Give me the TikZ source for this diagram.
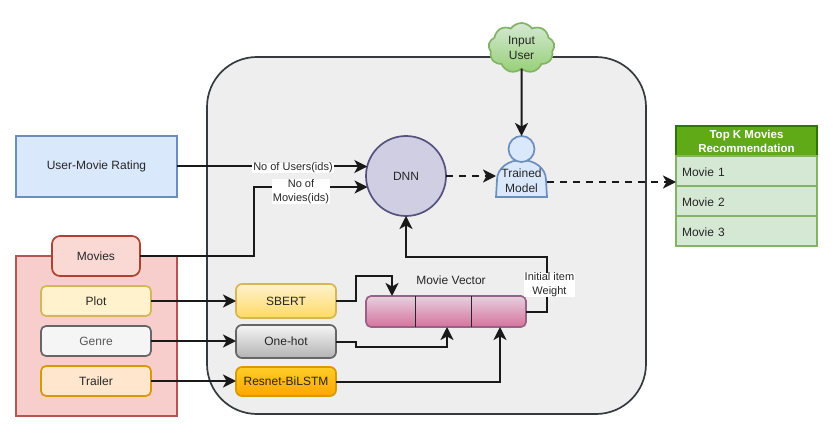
\documentclass[tikz,border=0pt]{standalone}
\usepackage{fontspec}
\setmainfont{Liberation Sans}
\usetikzlibrary{arrows.meta,shapes.symbols}
\definecolor{inkgray}{HTML}{262626}
\definecolor{bluefill}{HTML}{DAE8FC}
\definecolor{blueline}{HTML}{6C8EBF}
\definecolor{redfill}{HTML}{F8CECC}
\definecolor{redline}{HTML}{B85450}
\definecolor{moviefill}{HTML}{FAD9D5}
\definecolor{movieline}{HTML}{AE4132}
\definecolor{yellowfill}{HTML}{FFF2CC}
\definecolor{yellowend}{HTML}{FFD966}
\definecolor{yellowline}{HTML}{D6B656}
\definecolor{grayfill}{HTML}{F5F5F5}
\definecolor{grayend}{HTML}{B3B3B3}
\definecolor{grayline}{HTML}{666666}
\definecolor{orangefill}{HTML}{FFE6CC}
\definecolor{orangeline}{HTML}{D79B00}
\definecolor{amberstart}{HTML}{FFCD28}
\definecolor{amberend}{HTML}{FFA500}
\definecolor{pinkstart}{HTML}{E6D0DE}
\definecolor{pinkend}{HTML}{D5739D}
\definecolor{pinkline}{HTML}{996185}
\definecolor{dnnfill}{HTML}{D0CEE2}
\definecolor{dnnline}{HTML}{56517E}
\definecolor{enginefill}{HTML}{EEEEEE}
\definecolor{engineline}{HTML}{36393D}
\definecolor{greenfill}{HTML}{D5E8D4}
\definecolor{greenline}{HTML}{82B366}
\definecolor{greenend}{HTML}{97D077}
\definecolor{hdrfill}{HTML}{60A917}
\definecolor{hdrline}{HTML}{2D7600}
\begin{document}
\begin{tikzpicture}[
   x=1pt, y=-1pt,
   every node/.style={font=\fontsize{12}{15}\selectfont, text=inkgray, inner sep=0pt, outer sep=0pt, align=center},
   item/.style={rounded corners=5pt, minimum width=110pt, minimum height=30pt, line width=1.7pt},
   encoder/.style={rounded corners=6pt, minimum width=100pt, line width=1.7pt},
   movierow/.style={draw=greenline, fill=greenfill, line width=1.7pt, minimum width=141pt, minimum height=30pt, text width=129pt, text height=10.5pt, text depth=0pt, align=left},
   person/.style={draw=blueline, fill=bluefill, line width=1.7pt},
   note/.style={fill=white, inner xsep=1pt, font=\fontsize{11}{14}\selectfont},
   arrow/.style={-{Stealth[length=13pt,width=13pt,inset=3.5pt]}, line width=2pt, black!90},
   darrow/.style={arrow, dash pattern=on 7pt off 6pt}
]
\useasboundingbox (0,0) rectangle (833,433);

% Nodes
\node[draw=engineline, fill=enginefill, line width=1.7pt, rounded corners=50pt, minimum width=439pt, minimum height=357pt] (engine) at (426.5,235.5) {};
\node[draw=blueline, fill=bluefill, line width=1.7pt, minimum width=161pt, minimum height=61pt] (rating) at (96.5,166.5) {User-Movie Rating};
\node[draw=redline, fill=redfill, line width=1.7pt, minimum width=161pt, minimum height=160pt] (group) at (96.5,336) {};
\node[draw=movieline, fill=moviefill, line width=1.7pt, rounded corners=8pt, minimum width=88pt, minimum height=40pt] (movies) at (96,256) {Movies};

\node[item, draw=yellowline, fill=yellowfill] (plot) at (96,301) {Plot};
\node[item, draw=grayline, fill=grayfill, text=black!65] (genre) [below of=plot, node distance=40pt] {Genre};
\node[item, draw=orangeline, fill=orangefill] (trailer) [below of=genre, node distance=40pt] {Trailer};

\node[encoder, minimum height=34pt, draw=yellowline, top color=yellowfill, bottom color=yellowend] (sbert) at (286,301) {SBERT};
\node[encoder, minimum height=33pt, draw=grayline, top color=grayfill, bottom color=grayend] (onehot) at (286,341.5) {One-hot};
\node[encoder, minimum height=29pt, draw=orangeline, top color=amberstart, bottom color=amberend] (resnet) at (286,381.5) {Resnet-BiLSTM};

\node[rounded corners=5pt, draw=pinkline, top color=pinkstart, bottom color=pinkend, line width=1.7pt, minimum width=160pt, minimum height=31pt] (vector) at (446,311.5) {};
\draw[black!85, line width=1pt] ([xshift=-31pt]vector.north) -- ([xshift=-31pt]vector.south);
\draw[black!85, line width=1pt] ([xshift=25pt]vector.north) -- ([xshift=25pt]vector.south);
\node (vectorname) at (451,280) {Movie Vector};

\node[circle, draw=dnnline, fill=dnnfill, line width=1.7pt, minimum width=80pt] (dnn) at (406,176) {DNN};

% Trained model
\node[minimum width=51pt, minimum height=37pt] (model) at (521.5,178.5) {};
\draw[person] (model.south west) -- ++(1,-17) to[out=90,in=180] (model.north) to[out=0,in=90] ([xshift=-1pt,yshift=17pt]model.south east) -- (model.south east) -- cycle;
\node[circle, person, minimum width=26pt] (head) at (521.5,149) {};
\node (modelname) at (521.5,180.5) {Trained\\Model};

\node[cloud, cloud puffs=9, cloud puff arc=110, aspect=1.3, draw=greenline, top color=greenfill, bottom color=greenend, line width=1.7pt, minimum width=66pt, minimum height=50pt] (cloud) at (521.5,48) {Input\\User};

\node[draw=hdrline, fill=hdrfill, line width=1.7pt, minimum width=141pt, minimum height=30pt, text=white, font=\fontsize{11.5}{14}\selectfont\bfseries] (topk) at (746.5,141) {Top K Movies\\Recommendation};
\node[movierow] (first) at (746.5,171) {Movie 1};
\node[movierow] (second) [below of=first, node distance=30pt] {Movie 2};
\node[movierow] (third) [below of=second, node distance=30pt] {Movie 3};

% Edges
\draw[arrow] (rating.east) -- (rating.east -| dnn.165);
\draw[arrow] (movies.east) -- ++(114,0) |- (dnn.196);
\draw[arrow] (plot.east) -- (sbert.west);
\draw[arrow] (genre.east) -- (onehot.west |- genre.east);
\draw[arrow] (trailer.east) -- (resnet.west |- trailer.east);
\draw[arrow] (sbert.east) -- ++(20,0) -- ++(0,-25) -| ([xshift=-54pt]vector.north);
\draw[arrow] (onehot.east) -- ++(20,0) -- ++(0,5) -| ([xshift=1pt]vector.south);
\draw[arrow] (resnet.east) -| ([xshift=54pt]vector.south);
\draw[arrow] (vector.east) -- ++(21,0) -- ++(0,-55) -| (dnn.south);
\draw[arrow] (cloud.south) -- (head.north);
\draw[darrow] (dnn.east) -- (model.west |- dnn.east);
\coordinate (modelout) at ([yshift=-3.5pt]model.east);
\draw[darrow] (modelout) -- (modelout -| first.west);

% Labels
\node[note] (userslabel) at (293,168) {No of Users(ids)};
\node[note] (movieslabel) at (301,191.5) {No of\\Movies(ids)};
\node[note] (weightlabel) at (549.5,285) {Initial item\\Weight};
\end{tikzpicture}
\end{document}
